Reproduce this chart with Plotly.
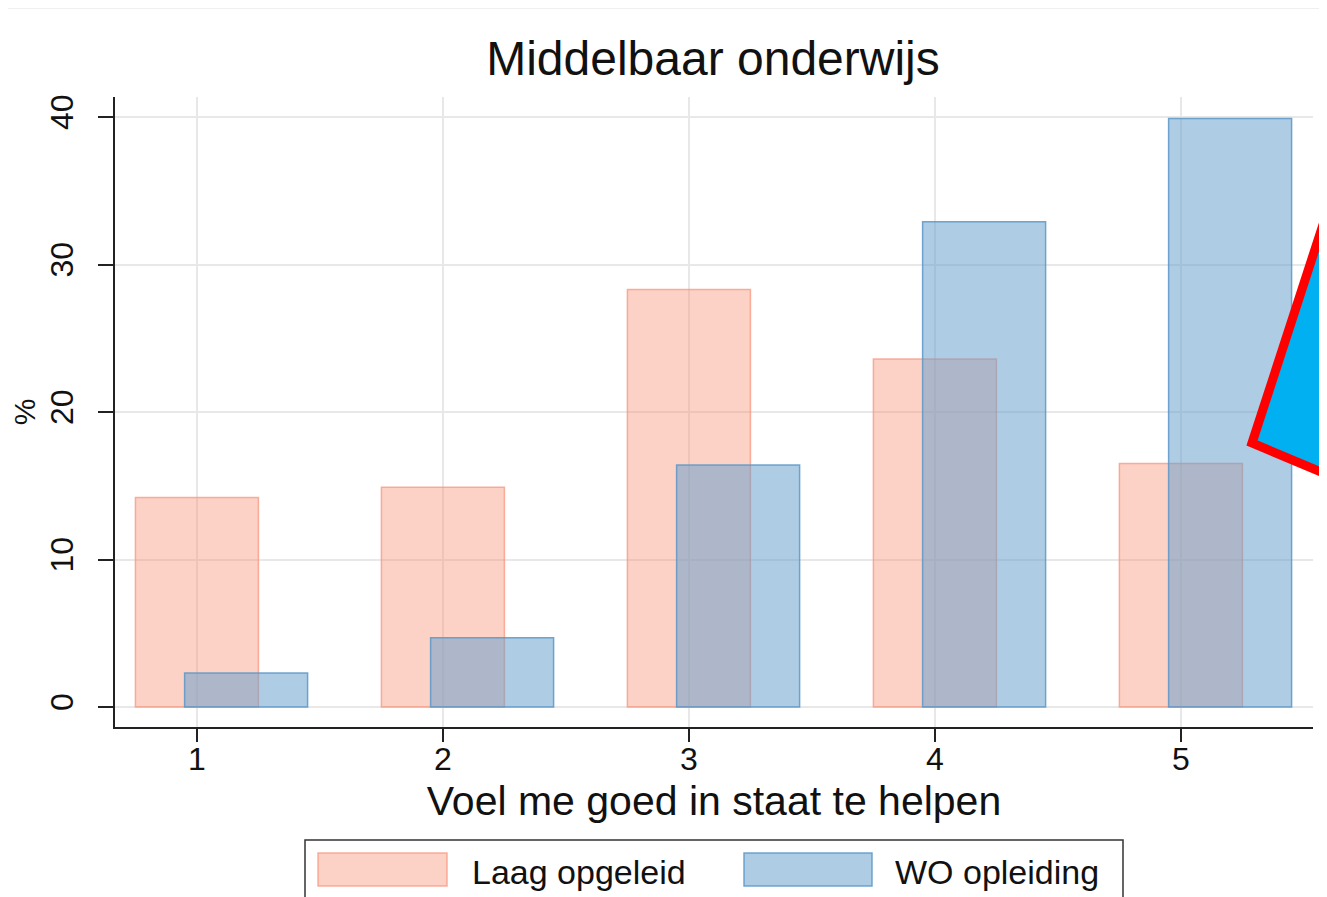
import plotly.graph_objects as go

categories = [1, 2, 3, 4, 5]
laag_values = [14.2, 14.9, 28.3, 23.6, 16.5]
wo_values = [2.3, 4.7, 16.4, 32.9, 39.9]
series_names = ["Laag opgeleid", "WO opleiding"]
y_ticks = [0, 10, 20, 30, 40]

OFF = 8  # page body margin
W, H = 1327 - OFF, 897 - OFF
L, R, T, B = 115 - OFF, 14, 97 - OFF, 170
PW, PH = W - L - R, H - T - B

def px(x):
    return (x - OFF - L) / PW

def py(y):
    return (H - B - (y - OFF)) / PH

FONT = "Liberation Sans, Arial, sans-serif"
laag_fill = "rgba(248,142,112,0.40)"
laag_line = "rgba(248,150,125,0.75)"
wo_fill = "rgba(99,159,203,0.52)"
wo_line = "rgba(90,150,200,0.85)"

fig = go.Figure()
fig.add_trace(go.Bar(x=categories, y=laag_values, name=series_names[0],
                     width=0.5, offset=-0.25,
                     marker=dict(color=laag_fill, line=dict(color=laag_line, width=1.5)),
                     showlegend=False))
fig.add_trace(go.Bar(x=categories, y=wo_values, name=series_names[1],
                     width=0.5, offset=-0.05,
                     marker=dict(color=wo_fill, line=dict(color=wo_line, width=1.5)),
                     showlegend=False))

shapes = []
# thin top line (page artifact)
shapes.append(dict(type="line", xref="paper", yref="paper", x0=px(8), x1=px(1340), y0=py(8), y1=py(8),
                   line=dict(color="#efefef", width=2)))
# legend box
shapes.append(dict(type="rect", xref="paper", yref="paper", x0=px(305), x1=px(1123), y0=py(840), y1=py(915),
                   line=dict(color="#333333", width=1.5), fillcolor="white"))
shapes.append(dict(type="rect", xref="paper", yref="paper", x0=px(318), x1=px(447), y0=py(853), y1=py(886),
                   line=dict(color=laag_line, width=1.5), fillcolor=laag_fill))
shapes.append(dict(type="rect", xref="paper", yref="paper", x0=px(744), x1=px(872), y0=py(853), y1=py(886),
                   line=dict(color=wo_line, width=1.5), fillcolor=wo_fill))
# triangle overlay
tri = "M {:.5f},{:.5f} L {:.5f},{:.5f} L {:.5f},{:.5f} Z".format(
    px(1252), py(443), px(1345), py(157), px(1345), py(482))
shapes.append(dict(type="path", xref="paper", yref="paper", path=tri,
                   fillcolor="#00b0f0", line=dict(color="#ff0000", width=9), layer="above"))

annotations = [
    dict(text=series_names[0], xref="paper", yref="paper", x=px(470), y=py(872),
         xanchor="left", yanchor="middle", showarrow=False, font=dict(size=34, color="#111", family=FONT)),
    dict(text=series_names[1], xref="paper", yref="paper", x=px(893), y=py(872),
         xanchor="left", yanchor="middle", showarrow=False, font=dict(size=34, color="#111", family=FONT)),
]

fig.update_layout(
    width=W, height=H,
    margin=dict(l=L, r=R, t=T, b=B, autoexpand=False),
    paper_bgcolor="white", plot_bgcolor="white",
    barmode="overlay",
    font=dict(family=FONT, color="#111"),
    title=dict(text="Middelbaar onderwijs", xref="container", x=(713 - OFF) / W, xanchor="center",
               y=1 - (58 - OFF) / H, yanchor="middle",
               font=dict(size=48, family=FONT, color="#111")),
    xaxis=dict(range=[0.667, 5.537], tickvals=categories, ticktext=[str(c) for c in categories],
               showgrid=True, gridcolor="#e8e8e8", gridwidth=2, zeroline=False,
               showline=True, linecolor="#222", linewidth=1.5,
               ticks="outside", ticklen=13, tickwidth=1.5, tickcolor="#222",
               ticklabelstandoff=-10,
               tickfont=dict(size=32, family=FONT, color="#111"),
               title=dict(text="Voel me goed in staat te helpen", font=dict(size=41, family=FONT, color="#111"),
                          standoff=10)),
    yaxis=dict(range=[-1.356, 41.356], tickvals=y_ticks, ticktext=[str(v) for v in y_ticks],
               showgrid=True, gridcolor="#e8e8e8", gridwidth=2, zeroline=False,
               showline=True, linecolor="#222", linewidth=1.5,
               ticks="outside", ticklen=15, tickwidth=1.5, tickcolor="#222", tickangle=-90,
               ticklabelstandoff=12,
               tickfont=dict(size=32, family=FONT, color="#111"),
               title=dict(text="%", font=dict(size=30, family=FONT, color="#111"), standoff=8)),
    shapes=shapes,
    annotations=annotations,
)

fig.write_html("out.html")
